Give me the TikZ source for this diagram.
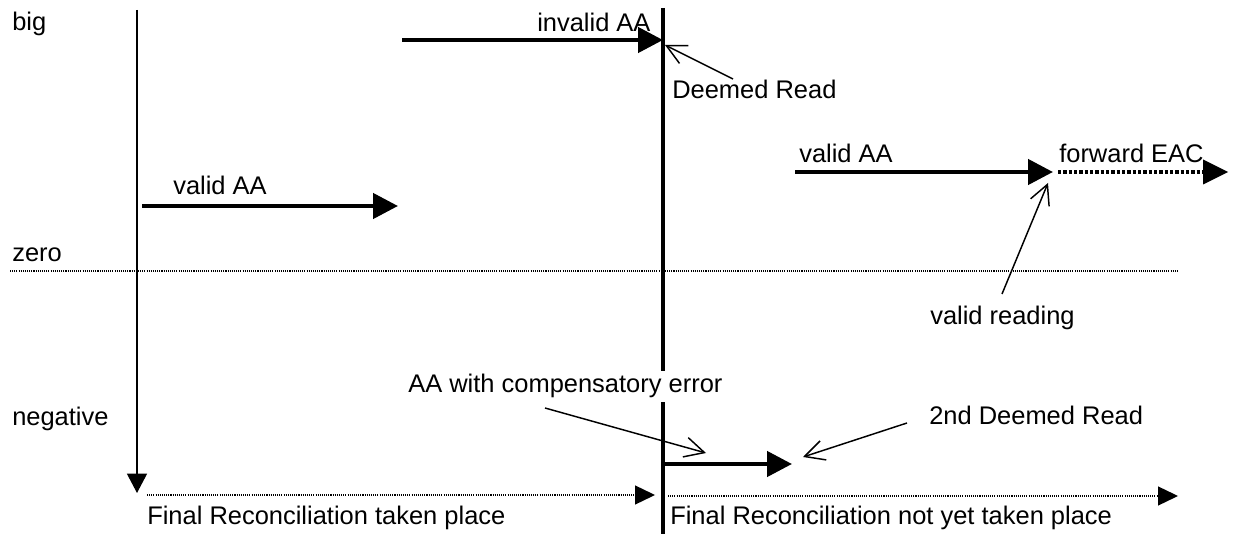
\documentclass[tikz,border=0pt]{standalone}
\usepackage{fontspec}
\setmainfont{Liberation Sans}
\usetikzlibrary{arrows.meta}
\begin{document}
\begin{tikzpicture}[x=0.75pt,y=-0.75pt,
  lbl/.style={anchor=base west,inner sep=0pt,font=\fontsize{19.1}{22}\selectfont},
  thickarrow/.style={line width=3.4pt,-{Triangle[length=18.75pt,width=18.75pt]}},
  thinarrow/.style={line width=1.1pt,-{Triangle[length=14.5pt,width=15pt]}},
  dotarrow/.style={line width=0.8pt,dash pattern=on 0.8pt off 0.8pt,-{Triangle[length=15pt,width=14.5pt,line width=0pt]}},
  dotthick/.style={line width=3.4pt,dash pattern=on 2.4pt off 1.6pt,-{Triangle[length=18.75pt,width=18.75pt,line width=0pt]}},
  pointer/.style={line width=1.1pt,-{Straight Barb[length=14.7pt,width=15pt]}},
  axisline/.style={line width=3.4pt},
  zeroline/.style={line width=0.8pt,dash pattern=on 0.8pt off 0.8pt}]
\useasboundingbox (0,0) rectangle (1233,538);
% level labels
\node[lbl] (big) at (12,31) {big};
\node[lbl] (zero) at (12,262) {zero};
\node[lbl] (neg) at (12,426) {negative};
% zero line
\coordinate (z0) at (10,271);
\coordinate (z1) at (1178,271);
\draw[zeroline] (z0) -- (z1);
% left time axis
\coordinate (lt) at (137,10);
\coordinate (lb) at (137,493);
\draw[thinarrow] (lt) -- (lb);
% central reconciliation line
\coordinate (ct) at (663,8);
\coordinate (cb) at (663,534);
\draw[axisline] (ct) -- (cb);
% invalid AA
\coordinate (ia0) at (402,40);
\coordinate (ia1) at (663,40);
\draw[thickarrow] (ia0) -- (ia1);
\node[lbl] (invalid) at (537,32) {invalid AA};
% Deemed Read pointer
\node[lbl] (deemed) at (672,99) {Deemed Read};
\coordinate (dr0) at (733,79);
\coordinate (dr1) at (665,45);
\draw[pointer] (dr0) -- (dr1);
% valid AA left
\coordinate (va0) at (142,206);
\coordinate (va1) at (398,206);
\draw[thickarrow] (va0) -- (va1);
\node[lbl] (validL) at (173,195) {valid AA};
% valid AA right
\coordinate (vb0) at (795,172);
\coordinate (vb1) at (1053,172);
\draw[thickarrow] (vb0) -- (vb1);
\node[lbl] (validR) at (799,163) {valid AA};
% forward EAC
\coordinate (fe0) at (1058,172);
\coordinate (fe1) at (1228,172);
\draw[dotthick] (fe0) -- (fe1);
\node[lbl] (fwd) at (1059,163) {forward EAC};
% valid reading
\node[lbl] (vread) at (930,325) {valid reading};
\coordinate (vr0) at (1002,294);
\coordinate (vr1) at (1048,183);
\draw[pointer] (vr0) -- (vr1);
% compensatory
\coordinate (ce0) at (663,464);
\coordinate (ce1) at (792,464);
\draw[thickarrow] (ce0) -- (ce1);
\node[lbl,fill=white,inner ysep=3pt] (comp) at (408,393) {AA with compensatory error};
\coordinate (cp0) at (545,408);
\coordinate (cp1) at (706,453);
\draw[pointer] (cp0) -- (cp1);
\node[lbl] (deemed2) at (929,425) {2nd Deemed Read};
\coordinate (d20) at (907,423);
\coordinate (d21) at (803,457);
\draw[pointer] (d20) -- (d21);
% bottom dotted arrows
\coordinate (fl0) at (147,495);
\coordinate (fl1) at (655,495);
\draw[dotarrow] (fl0) -- (fl1);
\coordinate (fr0) at (668,496);
\coordinate (fr1) at (1178,496);
\draw[dotarrow] (fr0) -- (fr1);
\node[lbl] (frL) at (147,524) {Final Reconciliation taken place};
\node[lbl] (frR) at (670,524) {Final Reconciliation not yet taken place};
\end{tikzpicture}
\end{document}
